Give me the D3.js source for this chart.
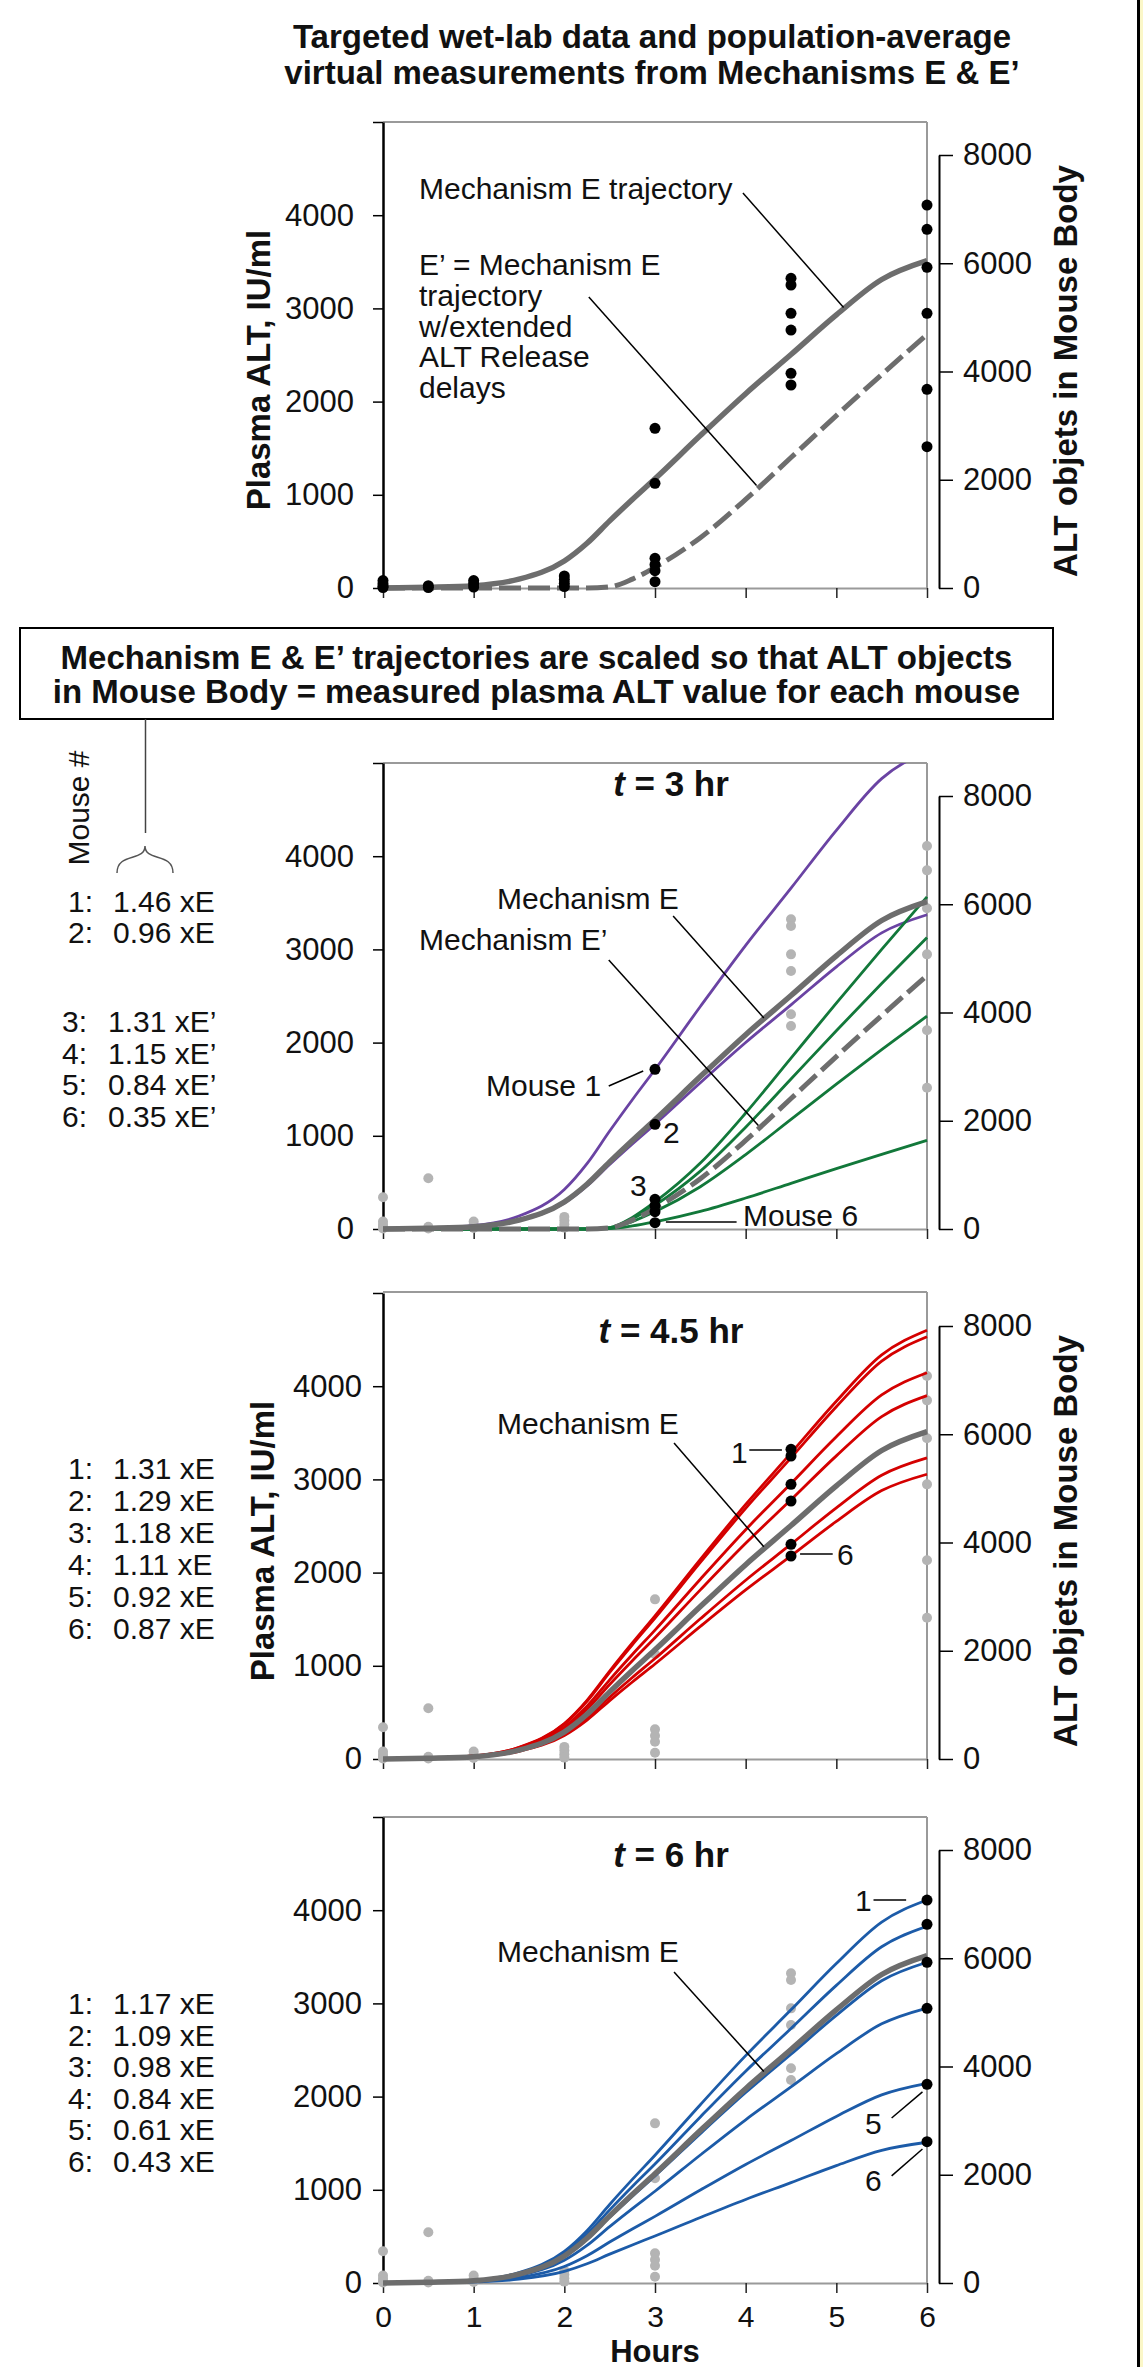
<!DOCTYPE html>
<html>
<head>
<meta charset="utf-8">
<script src="https://cdn.jsdelivr.net/npm/d3@7/dist/d3.min.js"></script>
<style>
  body { margin: 0; background: #fff; }
  svg text { font-family: "Liberation Sans", Arial, sans-serif; fill: #111; }
</style>
</head>
<body>
<svg id="chart"></svg>
<script>
// population-average trajectories (plasma ALT, IU/ml)
var hours      = [0, 0.5, 1, 1.5, 2, 2.25, 2.5, 2.75, 3, 3.5, 4, 4.5, 5, 5.5, 6];
var mechE      = [0, 8, 25, 95, 290, 480, 720, 950, 1172, 1635, 2085, 2505, 2930, 3310, 3512];
var mechEPrime = [0, 0, 0, 0, 0, 0, 12, 95, 222, 540, 950, 1400, 1850, 2290, 2720];

// wet-lab measurements
var labHours = [0, 0, 0, 0, 0.5, 0.5, 1, 1, 1, 2, 2, 2, 2, 3, 3, 3, 3, 3, 3,
                4.5, 4.5, 4.5, 4.5, 4.5, 4.5, 6, 6, 6, 6, 6, 6];
var labALT   = [80, 45, 20, 5, 25, 5, 80, 45, 10, 130, 90, 50, 15, 1713, 1123, 318, 250, 186, 68,
                3323, 3251, 2947, 2768, 2304, 2178, 4109, 3848, 3441, 2947, 2132, 1516];
// points only shown (gray) in the lower panels
var extraHours = [0, 0.5];
var extraALT   = [340, 545];

// scaling factors per mouse
var mouse3hrE      = [1.46, 0.96];
var mouse3hrEPrime = [1.31, 1.15, 0.84, 0.35];
var mouse45hrE     = [1.31, 1.29, 1.18, 1.11, 0.92, 0.87];
var mouse6hrE      = [1.17, 1.09, 0.98, 0.84, 0.61, 0.43];

var hourTicks  = [0, 1, 2, 3, 4, 5, 6];
var leftTicks  = [0, 1000, 2000, 3000, 4000, 5000];
var rightTicks = [0, 2000, 4000, 6000, 8000];

var W = 1143, H = 2367;
var svg = d3.select("#chart").attr("width", W).attr("height", H);

var grayLine = "#6d6d6d", frame = "#9a9a9a", dotGray = "#b4b4b4";
var purple = "#6a43a3", green = "#12783a", red = "#d40000", blue = "#1c5ba8";

var x = d3.scaleLinear().domain([0, 6]).range([383, 927]);

// right border of the page
svg.append("rect").attr("x", 1140).attr("y", 0).attr("width", 3).attr("height", H).attr("fill", "#fbf7c8");
svg.append("line").attr("x1", 1138.5).attr("x2", 1138.5).attr("y1", 0).attr("y2", H)
  .attr("stroke", "#000").attr("stroke-width", 3);

function txt(g, px, py, s, size, opts) {
  opts = opts || {};
  var t = g.append("text").attr("x", px).attr("y", py).text(s)
    .style("font-size", size + "px")
    .style("font-weight", opts.bold ? "bold" : "normal")
    .attr("text-anchor", opts.anchor || "start");
  if (opts.rotate) t.attr("transform", "rotate(-90," + px + "," + py + ")");
  return t;
}

var panels = [
  { top: 122,  y0: 588,  labPad: 19 },
  { top: 763,  y0: 1229, labPad: 19 },
  { top: 1292, y0: 1759, labPad: 11 },
  { top: 1817, y0: 2283, labPad: 11 }
];

panels.forEach(function(p, i) {
  p.y = d3.scaleLinear().domain([0, 5000]).range([p.y0, p.y0 - 466]);
  p.yR = d3.scaleLinear().domain([0, 8000]).range([p.y0, p.y0 - 433]);
  p.g = svg.append("g");
  p.clipId = "clip" + i;
  svg.append("clipPath").attr("id", p.clipId).append("rect")
    .attr("x", x(0) - 4).attr("y", p.top).attr("width", x(6) - x(0) + 8).attr("height", p.y0 - p.top + 6);

  // frame: top and right in gray
  p.g.append("line").attr("x1", x(0)).attr("x2", x(6)).attr("y1", p.top).attr("y2", p.top)
    .attr("stroke", frame).attr("stroke-width", 2);
  p.g.append("line").attr("x1", x(6)).attr("x2", x(6)).attr("y1", p.top).attr("y2", p.y0)
    .attr("stroke", frame).attr("stroke-width", 2);

  // bottom axis
  var bx = p.g.append("g").attr("transform", "translate(0," + p.y0 + ")")
    .call(d3.axisBottom(x).tickValues(hourTicks).tickSize(10).tickSizeOuter(0).tickPadding(13)
      .tickFormat(i === 3 ? d3.format("d") : function() { return ""; }));
  bx.select(".domain").attr("stroke", frame).attr("stroke-width", 2);
  bx.selectAll(".tick line").attr("stroke", "#222").attr("stroke-width", 1.5);
  bx.selectAll("text").style("font-size", "30px").attr("fill", "#111");

  // left axis
  var lx = p.g.append("g").attr("transform", "translate(" + x(0) + ",0)")
    .call(d3.axisLeft(p.y).tickValues(leftTicks).tickSize(10).tickSizeOuter(0).tickPadding(p.labPad)
      .tickFormat(function(d) { return d === 5000 ? "" : d; }));
  lx.select(".domain").attr("stroke", "#000").attr("stroke-width", 2.5);
  lx.selectAll(".tick line").attr("stroke", "#000").attr("stroke-width", 1.5);
  lx.selectAll("text").style("font-size", "31px").attr("fill", "#111");

  // right axis (ALT objects in mouse body)
  var rx = p.g.append("g").attr("transform", "translate(939,0)")
    .call(d3.axisRight(p.yR).tickValues(rightTicks).tickSize(14).tickSizeOuter(0).tickPadding(10)
      .tickFormat(d3.format("d")));
  rx.select(".domain").attr("stroke", "#000").attr("stroke-width", 2);
  rx.selectAll(".tick line").attr("stroke", "#000").attr("stroke-width", 1.5);
  rx.selectAll("text").style("font-size", "31px").attr("fill", "#111");

  p.line = d3.line().x(function(d) { return x(d[0]); }).y(function(d) { return p.y(d[1]); })
    .curve(d3.curveMonotoneX);
});

function series(base, k) {
  return hours.map(function(h, i) { return [h, base[i] * k]; });
}

function drawCurve(p, data, color, width, dash) {
  var path = p.g.append("path").datum(data)
    .attr("clip-path", "url(#" + p.clipId + ")")
    .attr("fill", "none").attr("stroke", color).attr("stroke-width", width)
    .attr("stroke-linejoin", "round")
    .attr("d", p.line);
  if (dash) path.attr("stroke-dasharray", dash);
  return path;
}

function drawDots(p, hs, vs, color, r, only) {
  var pts = hs.map(function(h, i) { return [h, vs[i]]; })
    .filter(function(d) { return only === undefined || d[0] === only; });
  p.g.append("g").selectAll("circle").data(pts).enter().append("circle")
    .attr("cx", function(d) { return x(d[0]); })
    .attr("cy", function(d) { return p.y(d[1]); })
    .attr("r", r).attr("fill", color);
}

function grayDots(p, skip) {
  var hs = labHours.concat(extraHours), vs = labALT.concat(extraALT);
  var keep = hs.map(function(h, i) { return [h, vs[i]]; }).filter(function(d) { return d[0] !== skip; });
  drawDots(p, keep.map(function(d) { return d[0]; }), keep.map(function(d) { return d[1]; }), dotGray, 5);
}

function pointer(p, a, b) {
  p.g.append("line")
    .attr("x1", x(a[0])).attr("y1", p.y(a[1]))
    .attr("x2", x(b[0])).attr("y2", p.y(b[1]))
    .attr("stroke", "#000").attr("stroke-width", 1.5);
}

function panelTitle(p, baseline, rest) {
  var t = p.g.append("text").attr("x", 671).attr("y", baseline).attr("text-anchor", "middle")
    .style("font-size", "35px").style("font-weight", "bold");
  t.append("tspan").style("font-style", "italic").text("t");
  t.append("tspan").text(" = " + rest);
}

function mouseList(g, factors, startNum, suffix, firstBaseline, step, xNum, xVal) {
  factors.forEach(function(k, i) {
    var yy = firstBaseline + i * step;
    txt(g, xNum, yy, (startNum + i) + ":", 30);
    txt(g, xVal, yy, d3.format(".2f")(k) + " " + suffix, 30);
  });
}

// ---------- panel 1 ----------
var p1 = panels[0];
txt(svg, 652, 48, "Targeted wet-lab data and population-average", 33, { bold: true, anchor: "middle" });
txt(svg, 652, 84, "virtual measurements from Mechanisms E & E\u2019", 33, { bold: true, anchor: "middle" });
drawCurve(p1, series(mechE, 1), grayLine, 5.5);
drawCurve(p1, series(mechEPrime, 1), grayLine, 5, "22,7");
drawDots(p1, labHours, labALT, "#000", 5.5);
txt(p1.g, 419, 199, "Mechanism E trajectory", 30);
pointer(p1, [3.97, 4238], [5.08, 3010]);
["E\u2019 = Mechanism E", "trajectory", "w/extended", "ALT Release", "delays"].forEach(function(s, i) {
  txt(p1.g, 419, 275 + i * 30.8, s, 30);
});
pointer(p1, [2.27, 3122], [4.12, 1100]);
txt(svg, 270, 370, "Plasma ALT, IU/ml", 33, { bold: true, anchor: "middle", rotate: true });
txt(svg, 1077, 371, "ALT objets in Mouse Body", 33, { bold: true, anchor: "middle", rotate: true });

// ---------- explanation box ----------
svg.append("rect").attr("x", 20).attr("y", 628).attr("width", 1033).attr("height", 91)
  .attr("fill", "none").attr("stroke", "#000").attr("stroke-width", 2);
txt(svg, 536.5, 669, "Mechanism E & E\u2019 trajectories are scaled so that ALT objects", 33, { bold: true, anchor: "middle" });
txt(svg, 536.5, 703, "in Mouse Body = measured plasma ALT value for each mouse", 33, { bold: true, anchor: "middle" });
svg.append("line").attr("x1", 145.5).attr("x2", 145.5).attr("y1", 719).attr("y2", 833)
  .attr("stroke", "#444").attr("stroke-width", 1.5);
svg.append("path").attr("d", "M117,873 C117,852 145,862 145,846 C145,862 173,852 173,873")
  .attr("fill", "none").attr("stroke", "#555").attr("stroke-width", 1.5);
txt(svg, 89, 808, "Mouse #", 30, { anchor: "middle", rotate: true });

// ---------- panel 2 : t = 3 hr ----------
var p2 = panels[1];
grayDots(p2, 3);
mouse3hrE.forEach(function(k) { drawCurve(p2, series(mechE, k), purple, 2.8); });
mouse3hrEPrime.forEach(function(k) { drawCurve(p2, series(mechEPrime, k), green, 2.8); });
drawCurve(p2, series(mechE, 1), grayLine, 5.5);
drawCurve(p2, series(mechEPrime, 1), grayLine, 5, "22,7");
drawDots(p2, labHours, labALT, "#000", 5.5, 3);
panelTitle(p2, 796, "3 hr");
txt(p2.g, 497, 909, "Mechanism E", 30);
pointer(p2, [3.2, 3358], [4.2, 2265]);
txt(p2.g, 419, 950, "Mechanism E\u2019", 30);
pointer(p2, [2.49, 2886], [4.14, 1110]);
txt(p2.g, 486, 1096, "Mouse 1", 30);
pointer(p2, [2.49, 1534], [2.87, 1695]);
txt(p2.g, 663, 1143, "2", 30);
txt(p2.g, 630, 1196, "3", 30);
txt(p2.g, 743, 1226, "Mouse 6", 30);
pointer(p2, [3.12, 75], [3.9, 75]);
mouseList(svg, mouse3hrE, 1, "xE", 912, 31, 68, 113);
mouseList(svg, mouse3hrEPrime, 3, "xE\u2019", 1032, 31.7, 62, 108);

// ---------- panel 3 : t = 4.5 hr ----------
var p3 = panels[2];
grayDots(p3, 4.5);
mouse45hrE.forEach(function(k) { drawCurve(p3, series(mechE, k), red, 2.8); });
drawCurve(p3, series(mechE, 1), grayLine, 5.5);
drawDots(p3, labHours, labALT, "#000", 5.5, 4.5);
panelTitle(p3, 1343, "4.5 hr");
txt(p3.g, 497, 1434, "Mechanism E", 30);
pointer(p3, [3.21, 3391], [4.2, 2277]);
txt(p3.g, 731, 1463, "1", 30);
pointer(p3, [4.04, 3315], [4.4, 3315]);
txt(p3.g, 837, 1565, "6", 30);
pointer(p3, [4.6, 2200], [4.96, 2200]);
mouseList(svg, mouse45hrE, 1, "xE", 1479, 32, 68, 113);
txt(svg, 274, 1541, "Plasma ALT, IU/ml", 33, { bold: true, anchor: "middle", rotate: true });
txt(svg, 1077, 1541, "ALT objets in Mouse Body", 33, { bold: true, anchor: "middle", rotate: true });

// ---------- panel 4 : t = 6 hr ----------
var p4 = panels[3];
grayDots(p4, 6);
mouse6hrE.forEach(function(k) { drawCurve(p4, series(mechE, k), blue, 2.8); });
drawCurve(p4, series(mechE, 1), grayLine, 5.5);
drawDots(p4, labHours, labALT, "#000", 5.5, 6);
panelTitle(p4, 1867, "6 hr");
txt(p4.g, 497, 1962, "Mechanism E", 30);
pointer(p4, [3.21, 3337], [4.2, 2270]);
txt(p4.g, 855, 1911, "1", 30);
pointer(p4, [5.41, 4109], [5.77, 4109]);
txt(p4.g, 865, 2134, "5", 30);
pointer(p4, [5.61, 1770], [5.95, 2050]);
txt(p4.g, 865, 2191, "6", 30);
pointer(p4, [5.61, 1150], [5.95, 1438]);
mouseList(svg, mouse6hrE, 1, "xE", 2014, 31.6, 68, 113);
txt(svg, 655, 2362, "Hours", 31, { bold: true, anchor: "middle" });
</script>
</body>
</html>
